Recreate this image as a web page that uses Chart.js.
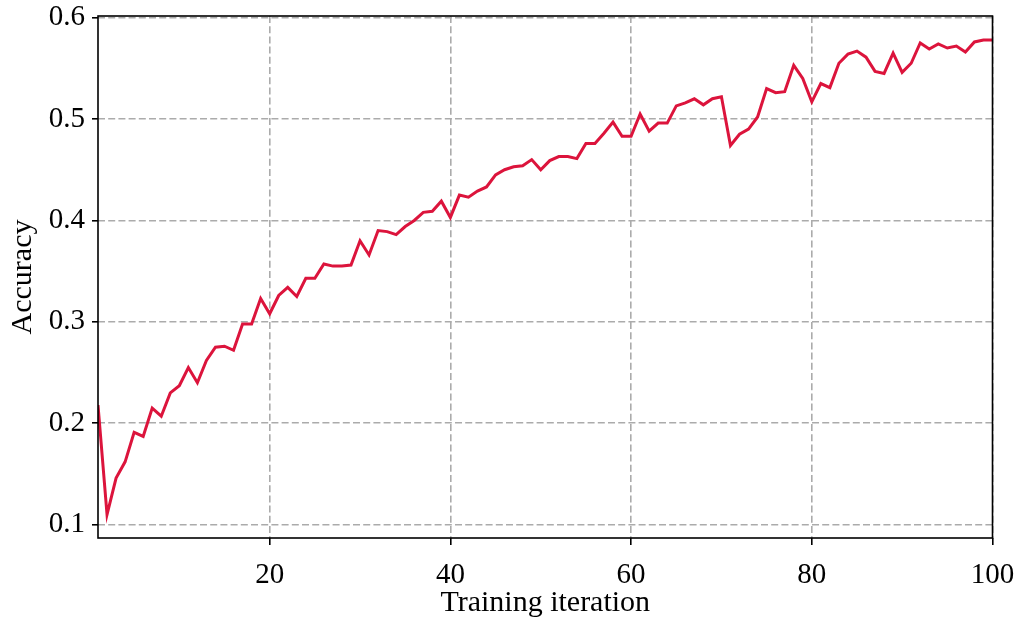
<!DOCTYPE html>
<html>
<head>
<meta charset="utf-8">
<title>Accuracy</title>
<script src="https://cdn.jsdelivr.net/npm/chart.js@4.4.1/dist/chart.umd.min.js"></script>
<style>
	body { margin: 0; background: #fff; }
	#wrap { width: 1019px; height: 621px; }
</style>
</head>
<body>
<div id="wrap"><canvas id="accChart" width="1019" height="621"></canvas></div>
<script>
// ---------------------- accuracy per training iteration (1 ~ 100) ----------------------
const accuracy = [
	0.218, 0.110, 0.146, 0.162, 0.191, 0.187, 0.215, 0.207, 0.230, 0.237,
	0.255, 0.240, 0.262, 0.275, 0.276, 0.272, 0.298, 0.298, 0.323, 0.308,
	0.326, 0.334, 0.325, 0.343, 0.343, 0.357, 0.355, 0.355, 0.356, 0.380,
	0.366, 0.390, 0.389, 0.386, 0.394, 0.400, 0.408, 0.409, 0.419, 0.403,
	0.425, 0.423, 0.429, 0.433, 0.445, 0.450, 0.453, 0.454, 0.460, 0.450,
	0.459, 0.463, 0.463, 0.461, 0.476, 0.476, 0.486, 0.497, 0.483, 0.483,
	0.505, 0.488, 0.496, 0.496, 0.513, 0.516, 0.520, 0.514, 0.520, 0.522,
	0.474, 0.485, 0.490, 0.502, 0.530, 0.526, 0.527, 0.553, 0.540, 0.517,
	0.535, 0.531, 0.555, 0.564, 0.567, 0.561, 0.547, 0.545, 0.565, 0.546,
	0.555, 0.575, 0.569, 0.574, 0.570, 0.572, 0.566, 0.576, 0.578, 0.578
];
const iterations = accuracy.map(function(v, i){ return i + 1; });

const xTicks = [20, 40, 60, 80, 100];
const yTicks = [0.1, 0.2, 0.3, 0.4, 0.5, 0.6];

const tickFont = { family: 'Liberation Serif', size: 29 };
const titleFont = { family: 'Liberation Serif', size: 30 };

// box around the plot area (all four spines)
const framePlugin = {
	id: 'frame',
	afterDraw: function(chart){
		const a = chart.chartArea;
		const ctx = chart.ctx;
		ctx.save();
		ctx.strokeStyle = '#000';
		ctx.lineWidth = 1.6;
		ctx.strokeRect(a.left, a.top, a.right - a.left, a.bottom - a.top);
		ctx.restore();
	}
};

const ctx = document.getElementById('accChart').getContext('2d');
const accChart = new Chart(ctx, {
	type: 'line',
	data: {
		datasets: [{
			label: 'Accuracy',
			data: iterations.map(function(it, i){ return { x: it, y: accuracy[i] }; }),
			borderColor: '#dc143c',
			borderWidth: 3,
			pointRadius: 0,
			tension: 0,
			fill: false
		}]
	},
	options: {
		responsive: false,
		animation: false,
		layout: { padding: { left: 0, top: 16, right: 26.5, bottom: 0 } },
		plugins: {
			legend: { display: false },
			tooltip: { enabled: false }
		},
		scales: {
			x: {
				type: 'linear',
				min: 1,
				max: 100,
				afterBuildTicks: function(scale){
					scale.ticks = xTicks.map(function(v){ return { value: v }; });
				},
				afterFit: function(scale){
					scale.height = 83;
					scale.paddingLeft = 0;
					scale.paddingRight = 0;
				},
				grid: { color: '#ababab', lineWidth: 1.6, tickLength: 7, tickColor: '#000', tickWidth: 1.6 },
				border: { display: false, dash: [7, 3.2] },
				ticks: {
					color: '#000',
					padding: 13,
					maxRotation: 0,
					font: tickFont,
					callback: function(v){ return String(v); }
				},
				title: {
					display: true,
					text: 'Training iteration',
					color: '#000',
					font: titleFont,
					padding: { top: 0, bottom: 0 }
				}
			},
			y: {
				min: 0.0869,
				max: 0.6016,
				afterBuildTicks: function(scale){
					scale.ticks = yTicks.map(function(v){ return { value: v }; });
				},
				afterFit: function(scale){
					scale.width = 98;
					scale.paddingTop = 0;
					scale.paddingBottom = 0;
				},
				grid: { color: '#ababab', lineWidth: 1.6, tickLength: 6, tickColor: '#000', tickWidth: 1.6 },
				border: { display: false, dash: [7, 3.2] },
				ticks: {
					color: '#000',
					padding: 7,
					font: tickFont,
					callback: function(v){ return v.toFixed(1); }
				},
				title: {
					display: true,
					text: 'Accuracy',
					color: '#000',
					font: titleFont,
					padding: { top: 5, bottom: 0 }
				}
			}
		}
	},
	plugins: [framePlugin]
});
</script>
</body>
</html>
